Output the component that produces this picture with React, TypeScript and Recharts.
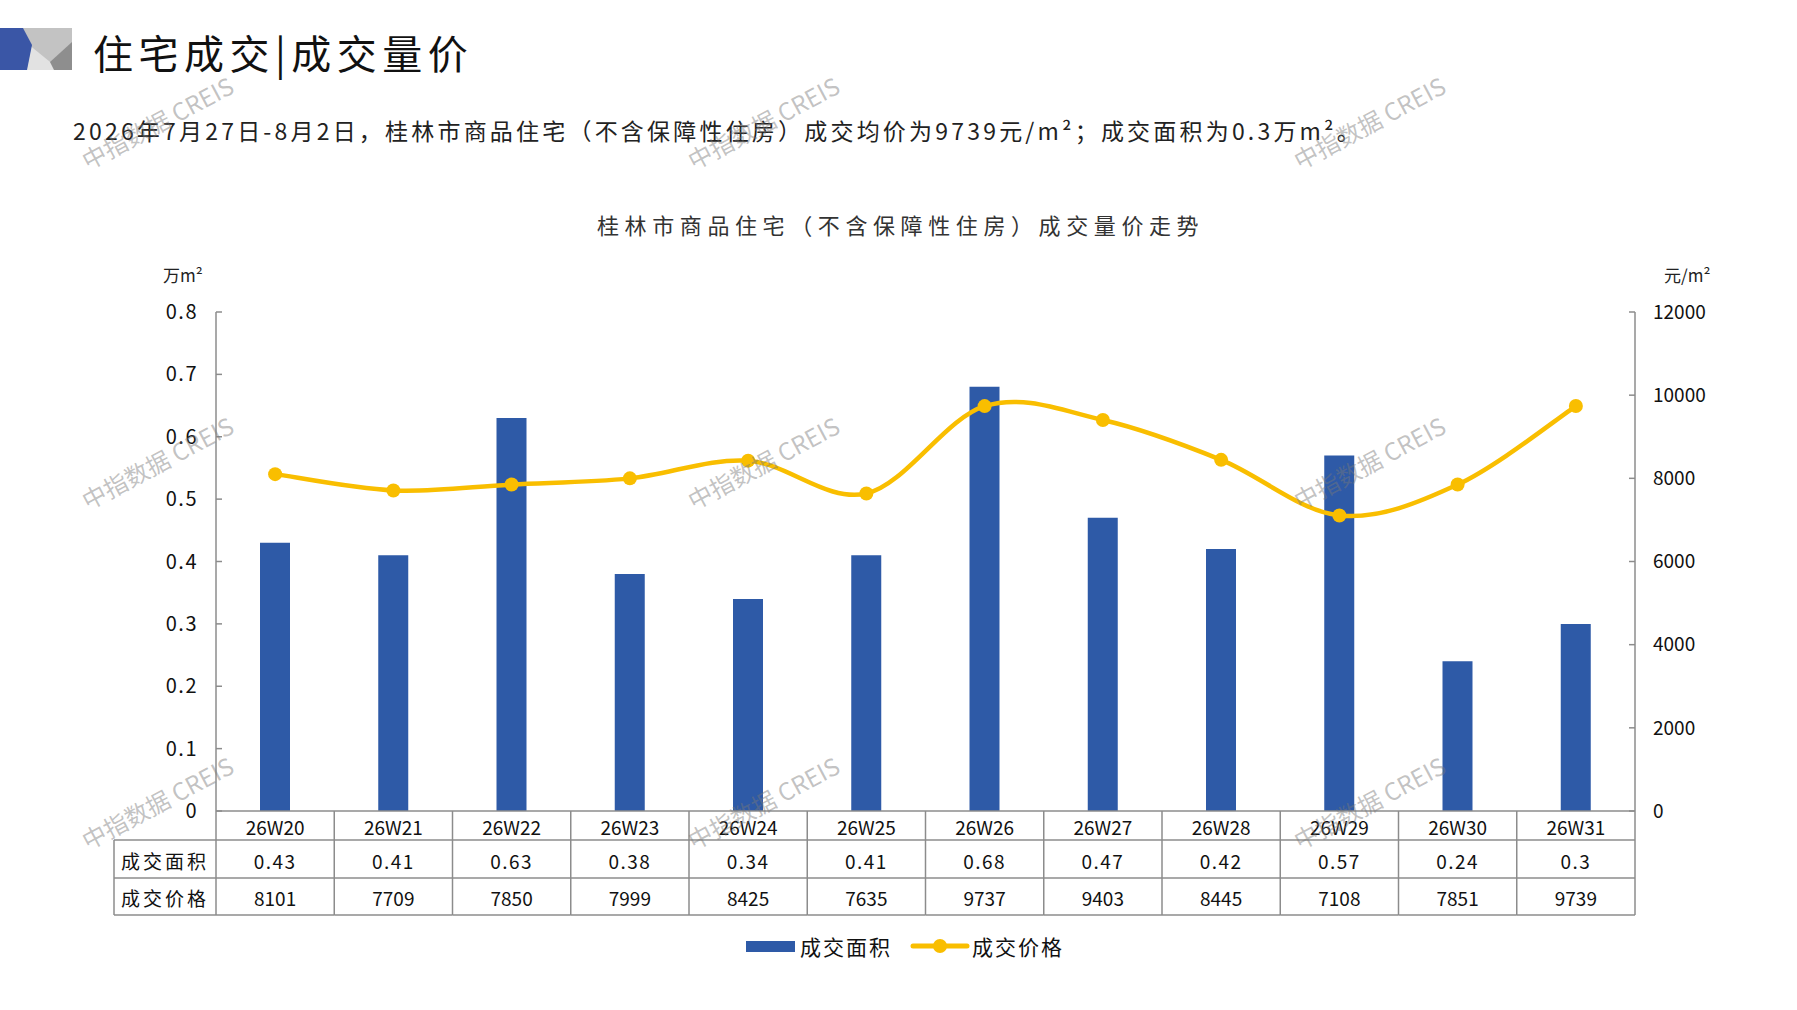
import React from 'react';
import { ComposedChart, Bar, Line, XAxis, YAxis } from 'recharts';

// 周度成交数据
const weeks = ['26W20', '26W21', '26W22', '26W23', '26W24', '26W25', '26W26', '26W27', '26W28', '26W29', '26W30', '26W31'];
const areaValues = [0.43, 0.41, 0.63, 0.38, 0.34, 0.41, 0.68, 0.47, 0.42, 0.57, 0.24, 0.3];
const priceValues = [8101, 7709, 7850, 7999, 8425, 7635, 9737, 9403, 8445, 7108, 7851, 9739];
const areaTicks = [0, 0.1, 0.2, 0.3, 0.4, 0.5, 0.6, 0.7, 0.8];
const priceTicks = [0, 2000, 4000, 6000, 8000, 10000, 12000];
const seriesNames = ['成交面积', '成交价格'];

const BLUE = '#2E5AA7';
const YELLOW = '#F9BE00';
const GRID = '#8C8C8C';
const FONT = '"Noto Sans CJK SC", "Noto Sans", sans-serif';

const W = 1797;
const H = 1010;
const PLOT_LEFT = 216;
const PLOT_RIGHT = 1635;
const PLOT_TOP = 312;
const PLOT_BOTTOM = 811;
const BAND = (PLOT_RIGHT - PLOT_LEFT) / weeks.length;
const ROW1 = 29;
const ROW2 = 67;
const ROW3 = 104;
const LABEL_COL = 102;

const chartData = weeks.map((w, i) => ({ week: w, area: areaValues[i], price: priceValues[i] }));

// Excel 风格平滑线 (Catmull-Rom -> Bezier)
const excelSmooth = (context: any) => {
  let pts: number[][] = [];
  return {
    areaStart() {},
    areaEnd() {},
    lineStart() {
      pts = [];
    },
    point(x: number, y: number) {
      pts.push([+x, +y]);
    },
    lineEnd() {
      if (!pts.length) return;
      context.moveTo(pts[0][0], pts[0][1]);
      for (let i = 0; i < pts.length - 1; i++) {
        const p0 = pts[Math.max(i - 1, 0)];
        const p1 = pts[i];
        const p2 = pts[i + 1];
        const p3 = pts[Math.min(i + 2, pts.length - 1)];
        context.bezierCurveTo(
          p1[0] + (p2[0] - p0[0]) / 6,
          p1[1] + (p2[1] - p0[1]) / 6,
          p2[0] - (p3[0] - p1[0]) / 6,
          p2[1] - (p3[1] - p1[1]) / 6,
          p2[0],
          p2[1]
        );
      }
    },
  };
};

// x 轴刻度 = 数据表的一列
const TableTick = (props: any) => {
  const { x, y, payload } = props;
  const i = payload.index;
  const left = x - BAND / 2;
  const right = x + BAND / 2;
  const txt = { fontFamily: FONT, fontSize: 19, fill: '#111', textAnchor: 'middle' as const, dominantBaseline: 'central' as const };
  return (
    <g>
      <line x1={left} x2={left} y1={y} y2={y + ROW3} stroke={GRID} strokeWidth={1.5} />
      {i === weeks.length - 1 && <line x1={right} x2={right} y1={y} y2={y + ROW3} stroke={GRID} strokeWidth={1.5} />}
      <line x1={left} x2={right} y1={y + ROW1} y2={y + ROW1} stroke={GRID} strokeWidth={1.5} />
      <line x1={left} x2={right} y1={y + ROW2} y2={y + ROW2} stroke={GRID} strokeWidth={1.5} />
      <line x1={left} x2={right} y1={y + ROW3} y2={y + ROW3} stroke={GRID} strokeWidth={1.5} />
      <text x={x} y={y + ROW1 / 2 + 1} {...txt}>{payload.value}</text>
      <text x={x} y={y + (ROW1 + ROW2) / 2 + 1} {...txt} letterSpacing={1.5}>{areaValues[i]}</text>
      <text x={x} y={y + (ROW2 + ROW3) / 2 + 1} {...txt}>{priceValues[i]}</text>
      {i === 0 && (
        <g>
          <line x1={left - LABEL_COL} x2={left} y1={y + ROW1} y2={y + ROW1} stroke={GRID} strokeWidth={1.5} />
          <line x1={left - LABEL_COL} x2={left} y1={y + ROW2} y2={y + ROW2} stroke={GRID} strokeWidth={1.5} />
          <line x1={left - LABEL_COL} x2={left} y1={y + ROW3} y2={y + ROW3} stroke={GRID} strokeWidth={1.5} />
          <line x1={left - LABEL_COL} x2={left - LABEL_COL} y1={y + ROW1} y2={y + ROW3} stroke={GRID} strokeWidth={1.5} />
          <text x={left - LABEL_COL / 2} y={y + (ROW1 + ROW2) / 2 + 1} {...txt} fontSize={19} letterSpacing={3}>{seriesNames[0]}</text>
          <text x={left - LABEL_COL / 2} y={y + (ROW2 + ROW3) / 2 + 1} {...txt} fontSize={19} letterSpacing={3}>{seriesNames[1]}</text>
        </g>
      )}
    </g>
  );
};

const watermarkSpots = [
  [157, 122], [763, 122], [1369, 122],
  [157, 462], [763, 462], [1369, 462],
  [157, 802], [763, 802], [1369, 802],
];

export default function App() {
  return (
    <div style={{ position: 'absolute', left: 0, top: 0, width: W, height: H, background: '#fff', fontFamily: FONT, overflow: 'hidden' }}>
      {/* 标题栏图标 */}
      <svg style={{ position: 'absolute', left: 0, top: 0 }} width={80} height={80}>
        <rect x={20} y={28} width={52} height={42} fill="#C3C3C3" />
        <polygon points="28,44 60,70 26,70" fill="#E2E2E2" />
        <polygon points="72,42 72,70 54,70 50,62" fill="#8E8E8E" />
        <polygon points="0,28 23,28 32,45 27,70 0,70" fill="#3A56A6" />
      </svg>
      <div style={{ position: 'absolute', left: 93, top: 26, fontSize: 40, lineHeight: '52px', letterSpacing: 5.5, color: '#111', whiteSpace: 'nowrap' }}>
        住宅成交|成交量价
      </div>
      <div style={{ position: 'absolute', left: 73, top: 114, fontSize: 23, lineHeight: '32px', letterSpacing: 3.2, color: '#222', whiteSpace: 'nowrap' }}>
        2026年7月27日-8月2日，桂林市商品住宅（不含保障性住房）成交均价为9739元/m²；成交面积为0.3万m²。
      </div>
      <div style={{ position: 'absolute', left: 597, top: 209, fontSize: 22, lineHeight: '30px', letterSpacing: 5.6, color: '#333', whiteSpace: 'nowrap' }}>
        桂林市商品住宅（不含保障性住房）成交量价走势
      </div>
      <div style={{ position: 'absolute', left: 163, top: 263, fontSize: 17, lineHeight: '24px', color: '#222' }}>万m²</div>
      <div style={{ position: 'absolute', left: 1664, top: 263, fontSize: 17, lineHeight: '24px', color: '#222' }}>元/m²</div>

      <div style={{ position: 'absolute', left: 0, top: 0 }}>
        <ComposedChart
          width={W}
          height={H}
          data={chartData}
          margin={{ top: PLOT_TOP, right: 0, bottom: H - PLOT_BOTTOM - ROW3, left: 0 }}
          barCategoryGap="30%"
        >
          <XAxis
            dataKey="week"
            interval={0}
            height={ROW3}
            tickSize={0}
            tickMargin={0}
            tickLine={false}
            axisLine={{ stroke: GRID, strokeWidth: 1.5 }}
            tick={<TableTick />}
          />
          <YAxis
            yAxisId="area"
            orientation="left"
            width={PLOT_LEFT}
            domain={[0, 0.8]}
            ticks={areaTicks}
            tickSize={-6}
            tickMargin={24}
            axisLine={{ stroke: GRID, strokeWidth: 1.5 }}
            tickLine={{ stroke: GRID, strokeWidth: 1.5 }}
            tick={{ fill: '#111', fontSize: 20, fontFamily: FONT, letterSpacing: 1.5 }}
          />
          <YAxis
            yAxisId="price"
            orientation="right"
            width={W - PLOT_RIGHT}
            domain={[0, 12000]}
            ticks={priceTicks}
            tickSize={-6}
            tickMargin={24}
            axisLine={{ stroke: GRID, strokeWidth: 1.5 }}
            tickLine={{ stroke: GRID, strokeWidth: 1.5 }}
            tick={{ fill: '#111', fontSize: 19, fontFamily: FONT, textAnchor: 'start' }}
          />
          <Bar yAxisId="area" dataKey="area" name={seriesNames[0]} fill={BLUE} barSize={30} isAnimationActive={false} />
          <Line
            yAxisId="price"
            dataKey="price"
            name={seriesNames[1]}
            type={excelSmooth as any}
            stroke={YELLOW}
            strokeWidth={4.5}
            dot={{ r: 7, fill: YELLOW, stroke: YELLOW, strokeWidth: 0 }}
            activeDot={false}
            isAnimationActive={false}
          />
        </ComposedChart>
      </div>

      {/* 图例 */}
      <div style={{ position: 'absolute', left: 746, top: 941, width: 49, height: 11, background: BLUE }} />
      <div style={{ position: 'absolute', left: 800, top: 930, fontSize: 21, lineHeight: '32px', letterSpacing: 2, color: '#111' }}>{seriesNames[0]}</div>
      <svg style={{ position: 'absolute', left: 906, top: 930 }} width={70} height={32}>
        <line x1={7} x2={61} y1={16} y2={16} stroke={YELLOW} strokeWidth={5} strokeLinecap="round" />
        <circle cx={34} cy={16} r={7} fill={YELLOW} />
      </svg>
      <div style={{ position: 'absolute', left: 972, top: 930, fontSize: 21, lineHeight: '32px', letterSpacing: 2, color: '#111' }}>{seriesNames[1]}</div>

      {/* 水印 */}
      <svg style={{ position: 'absolute', left: 0, top: 0, pointerEvents: 'none' }} width={W} height={H}>
        {watermarkSpots.map(([cx, cy], k) => (
          <text
            key={k}
            x={cx}
            y={cy}
            textAnchor="middle"
            dominantBaseline="central"
            fontSize={24}
            fontFamily={FONT}
            fill="rgba(120,120,120,0.45)"
            transform={`rotate(-28 ${cx} ${cy})`}
          >
            中指数据 CREIS
          </text>
        ))}
      </svg>
    </div>
  );
}
